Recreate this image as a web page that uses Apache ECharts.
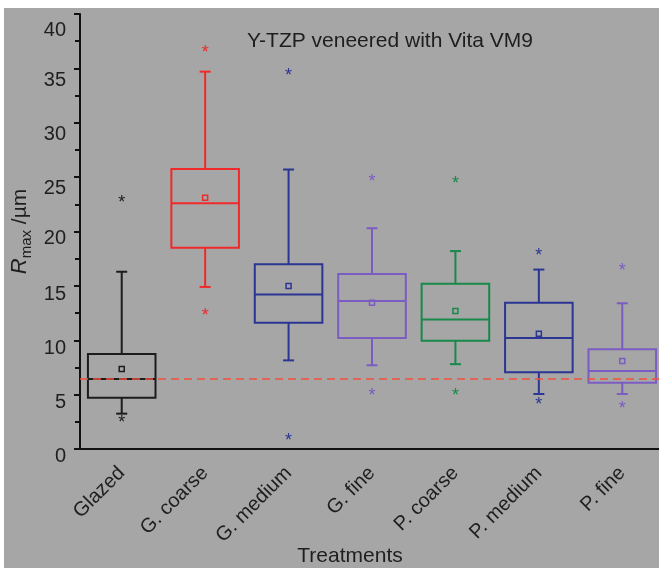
<!DOCTYPE html>
<html>
<head>
<meta charset="utf-8">
<script src="https://cdn.jsdelivr.net/npm/echarts@6/dist/echarts.min.js"></script>
<style>
html,body{margin:0;padding:0;background:#fff;}
#c{width:659px;height:568px;}
</style>
</head>
<body>
<div id="c"></div>
<script>
const categories = ['Glazed','G. coarse','G. medium','G. fine','P. coarse','P. medium','P. fine'];
const colors = ['#1c1c1c','#f02a2a','#2b3594','#7b5cc2','#18894a','#2b3594','#7b5cc2'];
const lowWhisker = [3.25, 14.9, 8.15, 7.7, 7.8, 5.06, 5.06];
const q1         = [4.72, 18.5, 11.6, 10.2, 9.96, 7.05, 6.1];
const median     = [6.44, 22.6, 14.2, 13.6, 11.9, 10.2, 7.17];
const q3         = [8.74, 25.75, 17.0, 16.1, 15.2, 13.45, 9.17];
const highWhisker= [16.3, 34.7, 25.7, 20.3, 18.2, 16.5, 13.4];
const means      = [7.36, 23.1, 15.0, 13.45, 12.7, 10.6, 8.09];
// outliers: [category index, value]
const outliers = [[0,23.0],[0,2.76],[1,36.8],[1,12.6],[2,34.7],[2,1.13],[3,24.9],[3,5.2],[4,24.7],[4,5.2],[5,18.1],[5,4.44],[6,16.7],[6,4.0]];
const refLine = 6.45;
const yTicks = [0,5,10,15,20,25,30,35,40];

const boxData = categories.map((c,i)=>[i, lowWhisker[i], q1[i], median[i], q3[i], highWhisker[i], means[i]]);

// vertical shift of each y tick label (as in the reference picture)
const labelShift = {0:7,5:8,10:8,15:9,20:7,25:11,30:12,35:12,40:16};
const fontFam = 'Liberation Sans, Arial, sans-serif';
const yRich = {};
yTicks.forEach(v => { yRich['t'+v] = {fontFamily: fontFam, fontSize: 20, color:'#1e1e1e', padding:[2*labelShift[v],0,0,0]}; });

const chart = echarts.init(document.getElementById('c'), null, {renderer:'canvas'});
const option = {
  backgroundColor: '#a6a6a6',
  animation: false,
  title: {
    text: 'Y-TZP veneered with Vita VM9',
    left: 385, top: 26, textAlign: 'center',
    textStyle: {fontFamily: fontFam, fontSize: 21, fontWeight: 'normal', color: '#1e1e1e'}
  },
  graphic: [
    {type:'rect', shape:{x:0,y:0,width:659,height:8}, style:{fill:'#fff'}, silent:true},
    {type:'rect', shape:{x:0,y:0,width:4,height:568}, style:{fill:'#fff'}, silent:true}
  ],
  grid: {left: 80, top: 14, width: 584, height: 435, containLabel: false, outerBoundsMode: 'none'},
  xAxis: {
    type: 'category',
    data: categories,
    boundaryGap: true,
    name: 'Treatments',
    nameLocation: 'middle',
    nameGap: 97,
    nameMoveOverlap: false,
    nameTextStyle: {fontFamily: fontFam, fontSize: 21, color: '#1e1e1e', padding:[0,0,0,-44]},
    axisLine: {lineStyle: {color: '#111', width: 2}},
    axisTick: {alignWithLabel: true, interval: 0, length: 6, lineStyle: {color:'#111', width: 2}},
    axisLabel: {interval: 0, rotate: 45, margin: 21, fontFamily: fontFam, fontSize: 20, color: '#1e1e1e'},
    splitLine: {show: false}
  },
  yAxis: {
    type: 'value',
    min: 0, max: 40, interval: 5,
    name: '{i|R}{s|max}{n| /µm}',
    nameLocation: 'middle',
    nameRotate: 90,
    nameGap: 46,
    nameMoveOverlap: false,
    nameTextStyle: {
      color: '#1e1e1e',
      rich: {
        i: {fontFamily: fontFam, fontSize: 22, fontStyle: 'italic', color:'#1e1e1e', lineHeight: 28},
        s: {fontFamily: fontFam, fontSize: 15, color:'#1e1e1e', verticalAlign: 'bottom', lineHeight: 18, padding:[8,0,0,0]},
        n: {fontFamily: fontFam, fontSize: 21, color:'#1e1e1e', lineHeight: 28}
      }
    },
    axisLine: {show: true, lineStyle: {color: '#111', width: 2}},
    axisTick: {show: true, length: 6, lineStyle: {color:'#111', width: 2}},
    minorTick: {show: true, splitNumber: 2, length: 5, lineStyle: {color:'#111', width: 2}},
    axisLabel: {margin: 14, rich: yRich,
      formatter: v => yTicks.indexOf(v) >= 0 ? '{t' + v + '|' + v + '}' : ''},
    splitLine: {show: false}
  },
  series: [
    {
      type: 'custom',
      data: boxData,
      encode: {x: 0, y: [1,2,3,4,5,6]},
      renderItem: function(params, api){
        const i = api.value(0);
        const col = colors[i];
        const bw = api.size([1,0])[0] * 0.81;
        const cap = 11;
        const pLow = api.coord([i, api.value(1)]);
        const pQ1 = api.coord([i, api.value(2)]);
        const pMed = api.coord([i, api.value(3)]);
        const pQ3 = api.coord([i, api.value(4)]);
        const pHigh = api.coord([i, api.value(5)]);
        const pMean = api.coord([i, api.value(6)]);
        const x = pMed[0];
        const ls = {stroke: col, lineWidth: 2, fill: 'none'};
        return {
          type: 'group',
          children: [
            {type:'line', shape:{x1:x, y1:pHigh[1], x2:x, y2:pQ3[1]}, style: ls},
            {type:'line', shape:{x1:x-cap/2, y1:pHigh[1], x2:x+cap/2, y2:pHigh[1]}, style: ls},
            {type:'line', shape:{x1:x, y1:pLow[1], x2:x, y2:pQ1[1]}, style: ls},
            {type:'line', shape:{x1:x-cap/2, y1:pLow[1], x2:x+cap/2, y2:pLow[1]}, style: ls},
            {type:'rect', shape:{x:x-bw/2, y:pQ3[1], width:bw, height:pQ1[1]-pQ3[1]}, style: ls},
            {type:'line', shape:{x1:x-bw/2, y1:pMed[1], x2:x+bw/2, y2:pMed[1]}, style: ls},
            {type:'rect', shape:{x:pMean[0]-2.5, y:pMean[1]-2.5, width:5, height:5}, style: {stroke: col, lineWidth: 1.5, fill:'none'}}
          ]
        };
      },
      markLine: {
        silent: true,
        symbol: 'none',
        label: {show: false},
        lineStyle: {color: '#f2503c', type: [8,5], width: 1.5},
        data: [{yAxis: refLine}]
      },
      z: 2
    },
    {
      type: 'custom',
      data: outliers,
      encode: {x: 0, y: 1},
      renderItem: function(params, api){
        const i = api.value(0);
        const p = api.coord([i, api.value(1)]);
        return {
          type: 'text',
          x: p[0], y: p[1] + 4,
          style: {text: '*', fill: colors[i], fontFamily: fontFam, fontSize: 18, align: 'center', verticalAlign: 'middle'}
        };
      },
      z: 3
    }
  ]
};
chart.setOption(option);
</script>
</body>
</html>
